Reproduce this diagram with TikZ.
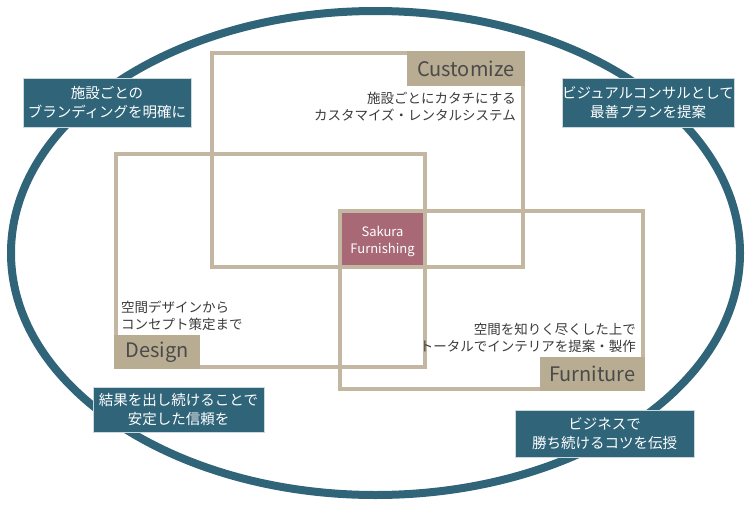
\documentclass[tikz,border=0pt]{standalone}
\usepackage{fontspec}
\setmainfont{Noto Sans CJK JP}
\definecolor{teal1}{HTML}{2F6479}
\definecolor{tanline}{HTML}{C3B7A1}
\definecolor{tanfill}{HTML}{B8AC93}
\definecolor{labeltext}{HTML}{4A4A4A}
\definecolor{sakura}{HTML}{A86876}
\definecolor{bodytext}{HTML}{3A3A3A}
\begin{document}
\begin{tikzpicture}[x=1pt,y=-1pt,
  frame/.style={draw=tanline,line width=4pt},
  labelbox/.style={fill=tanfill,inner sep=0pt,text=labeltext,font=\fontsize{20}{20}\selectfont},
  bodytxt/.style={inner sep=0pt,text=bodytext,font=\fontsize{13.5}{17}\selectfont},
  callout/.style={fill=teal1,draw=white!75!teal1,line width=0.8pt,text=white,align=center,
    inner sep=0pt,font=\fontsize{14.5}{19}\selectfont},
]
\useasboundingbox (0,0) rectangle (750,509);
% outer ellipse
\draw[draw=teal1,line width=8pt] (375.5,253) ellipse [x radius=364.5, y radius=242];
% centre box fill
\node[fill=sakura,minimum width=85pt,minimum height=56pt,inner sep=0pt,anchor=north west] (sakura) at (340,211) {};
% frames
\coordinate (cTL) at (212,53);  \coordinate (cBR) at (523,267);
\coordinate (dTL) at (116,154); \coordinate (dBR) at (425,367);
\coordinate (fTL) at (340,211); \coordinate (fBR) at (643,389);
\draw[frame] (cTL) rectangle (cBR);
\draw[frame] (dTL) rectangle (dBR);
\draw[frame] (fTL) rectangle (fBR);
% labels
\node[labelbox,minimum width=118pt,minimum height=35pt,anchor=north east] (custlabel) at (525,51) {Customize};
\node[labelbox,minimum width=86pt,minimum height=34pt,anchor=south west] (deslabel) at (114,369) {Design};
\node[labelbox,minimum width=105pt,minimum height=34pt,anchor=south east] (furnlabel) at (645,391) {Furniture};
% sakura text
\node[text=white,align=center,inner sep=0pt,font=\fontsize{13}{17}\selectfont] (sakuratxt) at (382.5,241) {Sakura\\Furnishing};
% body texts
\node[bodytxt,align=right,anchor=east] (custtxt) at (516,107) {施設ごとにカタチにする\\カスタマイズ・レンタルシステム};
\node[bodytxt,align=left,anchor=west] (destxt) at (121,316) {空間デザインから\\コンセプト策定まで};
\node[bodytxt,align=right,anchor=east] (furntxt) at (636,338) {空間を知りく尽くした上で\\トータルでインテリアを提案・製作};
% callouts
\node[callout,minimum width=168pt,minimum height=49pt] (co1) at (107,102.5) {施設ごとの\\ブランディングを明確に};
\node[callout,minimum width=170pt,minimum height=49pt] (co2) at (648,102.5) {ビジュアルコンサルとして\\最善プランを提案};
\node[callout,minimum width=171pt,minimum height=45pt] (co3) at (178.5,409.5) {結果を出し続けることで\\安定した信頼を};
\node[callout,minimum width=179pt,minimum height=47pt] (co4) at (604.5,433.5) {ビジネスで\\勝ち続けるコツを伝授};
\end{tikzpicture}
\end{document}
